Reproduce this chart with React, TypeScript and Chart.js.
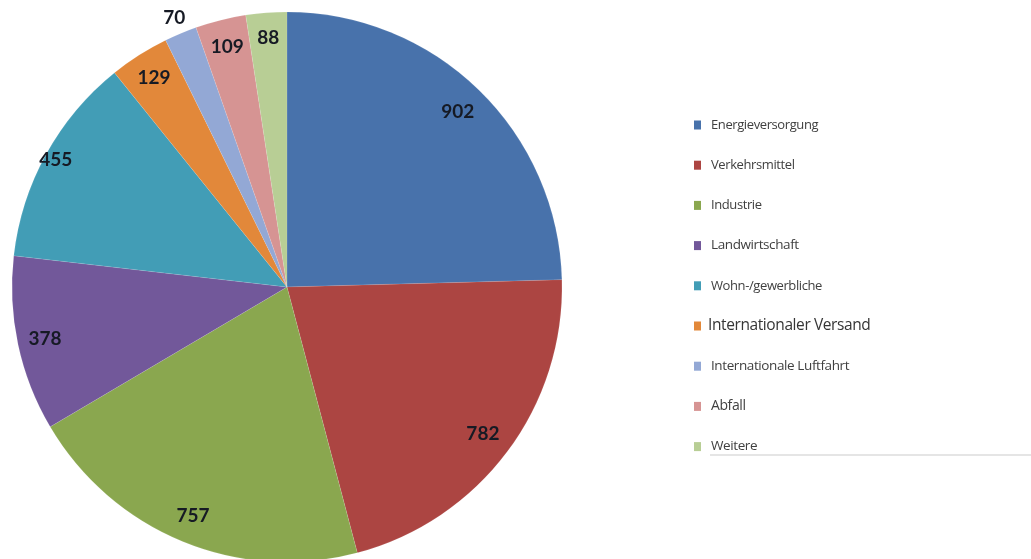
import React, { useEffect, useRef } from "react";
import { Chart, registerables } from "chart.js";

Chart.register(...registerables);

// Emissions by sector
const categories = [
  "Energieversorgung",
  "Verkehrsmittel",
  "Industrie",
  "Landwirtschaft",
  "Wohn-/gewerbliche",
  "Internationaler Versand",
  "Internationale Luftfahrt",
  "Abfall",
  "Weitere",
];
const values = [902, 782, 757, 378, 455, 129, 70, 109, 88];
const sliceColors = [
  "#4872AB",
  "#AC4542",
  "#8AA74F",
  "#72589A",
  "#429DB6",
  "#E2883A",
  "#93A8D5",
  "#D69493",
  "#B8CE95",
];

// Radial position of each value label, as a fraction of the pie radius
const labelRadius = [0.89, 0.89, 0.9, 0.9, 0.96, 0.9, 1.06, 0.9, 0.91];
// Font size of each legend entry
const legendFontSize = [13, 13, 13, 13.5, 13, 15.5, 13.5, 14, 13.5];

const valueLabels = {
  id: "valueLabels",
  afterDatasetsDraw(chart: Chart) {
    const ctx = chart.ctx;
    const meta = chart.getDatasetMeta(0);
    ctx.save();
    ctx.font = "bold 19px Lato, 'Open Sans', sans-serif";
    ctx.fillStyle = "#161a24";
    ctx.textAlign = "center";
    ctx.textBaseline = "middle";
    meta.data.forEach((el: any, i: number) => {
      const { x, y, startAngle, endAngle, outerRadius } = el.getProps(
        ["x", "y", "startAngle", "endAngle", "outerRadius"],
        true
      );
      const mid = (startAngle + endAngle) / 2;
      const r = outerRadius * labelRadius[i];
      ctx.fillText(String(values[i]), x + Math.cos(mid) * r, y + Math.sin(mid) * r);
    });
    ctx.restore();
  },
};

const sideLegend = {
  id: "sideLegend",
  afterDraw(chart: Chart) {
    const ctx = chart.ctx as any;
    const top = 125;
    const step = 40.2;
    ctx.save();
    ctx.textBaseline = "middle";
    ctx.textAlign = "left";
    categories.forEach((name, i) => {
      const cy = top + i * step;
      ctx.fillStyle = sliceColors[i];
      ctx.fillRect(694, cy - 4.5, 7, 9);
      ctx.fillStyle = i === 5 ? "#353535" : "#404040";
      ctx.font = `${legendFontSize[i]}px 'Open Sans', sans-serif`;
      ctx.letterSpacing = "-0.4px";
      ctx.fillText(name, i === 5 ? 708 : 711, cy);
    });
    ctx.letterSpacing = "0px";
    // thin rule under the last entry
    ctx.strokeStyle = "#dcdcdc";
    ctx.lineWidth = 1.5;
    ctx.beginPath();
    ctx.moveTo(710, 455);
    ctx.lineTo(1031, 455);
    ctx.stroke();
    ctx.restore();
  },
};

export default function App() {
  const canvasRef = useRef<HTMLCanvasElement | null>(null);

  useEffect(() => {
    let chart: Chart | null = null;
    let cancelled = false;
    const fontsReady = Promise.all([
      document.fonts.load("bold 19px Lato"),
      document.fonts.load("13px 'Open Sans'"),
    ]).catch(() => undefined);

    fontsReady.then(() => {
      if (cancelled || !canvasRef.current) return;
      chart = new Chart(canvasRef.current, {
        type: "pie",
        data: {
          labels: categories,
          datasets: [
            {
              data: values,
              backgroundColor: sliceColors,
              borderColor: "rgba(255,255,255,0.2)",
              borderWidth: 0.5,
            },
          ],
        },
        options: {
          responsive: false,
          animation: false,
          radius: 275,
          layout: { padding: { left: 12, top: 12, right: 469, bottom: 12 } },
          plugins: {
            legend: { display: false },
            tooltip: { enabled: false },
          },
        },
        plugins: [valueLabels, sideLegend],
      });
    });

    return () => {
      cancelled = true;
      if (chart) chart.destroy();
    };
  }, []);

  return (
    <div
      style={{
        position: "absolute",
        left: 0,
        top: 0,
        width: 1031,
        height: 559,
        overflow: "hidden",
        background: "#ffffff",
      }}
    >
      <canvas ref={canvasRef} width={1031} height={574} style={{ display: "block" }} />
    </div>
  );
}
